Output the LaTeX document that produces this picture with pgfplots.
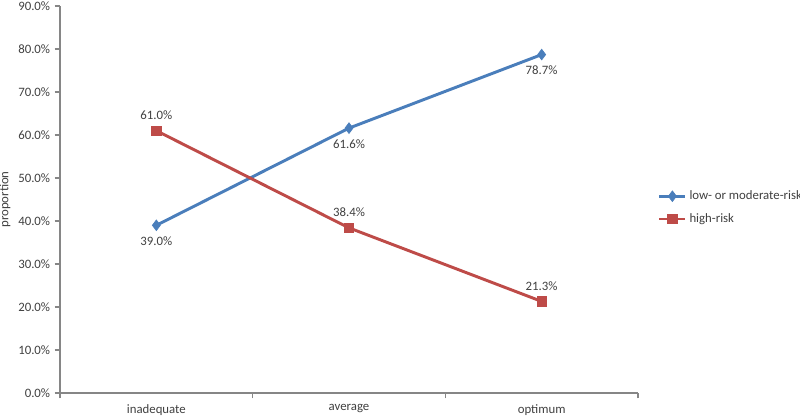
\documentclass[border=0pt]{standalone}
\usepackage{pgfplots}
\pgfplotsset{compat=1.18}
\usepackage{fontspec}
\setmainfont{Carlito}
\definecolor{cblue}{HTML}{4A7EBB}
\definecolor{cred}{HTML}{BE4B48}
\definecolor{axgray}{HTML}{868686}
\definecolor{txt}{HTML}{404040}
\begin{document}
\fontsize{9.6pt}{11pt}\selectfont
\begin{tikzpicture}
\useasboundingbox (0,0) rectangle (600pt,312pt);
\begin{axis}[
  at={(45pt,17.25pt)}, anchor=south west,
  scale only axis, width=433.5pt, height=290.25pt,
  xmin=-0.5, xmax=2.5, ymin=0, ymax=90,
  axis x line*=bottom, axis y line*=left,
  axis line style={-, draw=axgray, line width=0.9pt},
  xtick={-0.5,0.5,1.5,2.5}, xticklabels={},
  extra x ticks={0,1,2},
  extra x tick labels={inadequate,average,optimum},
  extra x tick style={major tick length=0pt},
  ytick={0,10,...,90},
  yticklabel={\pgfmathprintnumber[fixed,fixed zerofill,precision=1]{\tick}\%},
  /pgf/number format/assume math mode=true,
  tick align=outside, major tick length=4pt,
  tick style={draw=axgray, line width=0.9pt},
  ticklabel style={font=\fontsize{9.6pt}{11pt}\selectfont, text=txt},
  xticklabel style={yshift=-5pt},
  ylabel={proportion},
  ylabel style={at={(axis description cs:-0.095,0.5)}, anchor=center, font=\fontsize{9.6pt}{11pt}\selectfont, text=txt},
  legend style={at={(rel axis cs:1.034,0.479)}, anchor=west, draw=none, fill=none,
    font=\fontsize{9.6pt}{11pt}\selectfont, text=txt, row sep=5pt, inner sep=0pt},
  legend cell align=left,
  legend image code/.code={
    \draw[#1, mark repeat=2, mark phase=2] plot coordinates {(0pt,0pt) (9.75pt,0pt) (19.5pt,0pt)};
  },
  nodes near coords={\pgfmathprintnumber[fixed,fixed zerofill,precision=1]{\pgfplotspointmeta}\%},
  every node near coord/.append style={font=\fontsize{9.6pt}{11pt}\selectfont, text=txt},
]
\addplot[cblue, line width=2.2pt, mark=diamond*, mark size=4pt,
  mark options={fill=cblue, draw=cblue, line width=0.5pt},
  nodes near coords align={below}, every node near coord/.append style={yshift=-5pt}]
  coordinates {(0,39.0) (1,61.6) (2,78.7)};
\addlegendentry{low- or moderate-risk}
\addplot[cred, line width=2.2pt, mark=square*, mark size=3.5pt,
  mark options={fill=cred, draw=cred, line width=0.5pt},
  nodes near coords align={above}, every node near coord/.append style={yshift=5pt}]
  coordinates {(0,61.0) (1,38.4) (2,21.3)};
\addlegendentry{high-risk}
\end{axis}
\end{tikzpicture}
\end{document}
